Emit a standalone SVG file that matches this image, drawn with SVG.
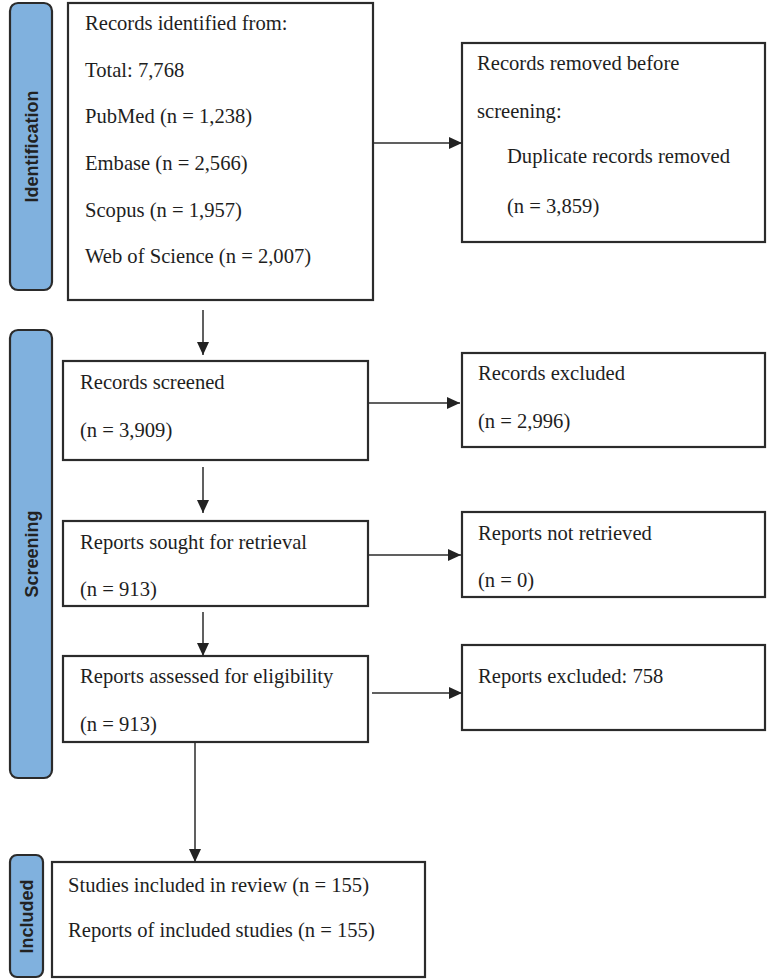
<svg xmlns="http://www.w3.org/2000/svg" width="767" height="979" viewBox="0 0 767 979">
<defs>
<style>
.box{fill:#fff;stroke:#2b2b2b;stroke-width:2.2}
.bar{fill:#80b1de;stroke:#2b2b2b;stroke-width:2.2}
.t{font-family:"Liberation Serif","Times New Roman",serif;font-size:20.6px;fill:#1e1e1e}
.lab{font-family:"Liberation Sans",Arial,sans-serif;font-size:18px;font-weight:bold;fill:#222;text-anchor:middle}
.con{stroke:#2b2b2b;stroke-width:1.5;fill:none;marker-end:url(#ah)}
</style>
<marker id="ah" markerUnits="userSpaceOnUse" markerWidth="14" markerHeight="12" refX="13" refY="6" orient="auto">
<path d="M0,0 L13,6 L0,12 Z" fill="#222"/>
</marker>
</defs>
<rect width="767" height="979" fill="#fff"/>

<g id="phase-identification">
<rect class="bar" x="10" y="3" width="42" height="287" rx="8"/>
<text class="lab" transform="translate(37.5,146.5) rotate(-90)">Identification</text>
</g>
<g id="phase-screening">
<rect class="bar" x="10" y="330" width="42" height="448" rx="8"/>
<text class="lab" transform="translate(37.5,554) rotate(-90)">Screening</text>
</g>
<g id="phase-included">
<rect class="bar" x="10" y="855" width="33" height="122" rx="7"/>
<text class="lab" transform="translate(33,916.5) rotate(-90)">Included</text>
</g>

<g id="node-identified">
<rect class="box" x="68" y="3" width="305" height="297"/>
<text class="t" x="85" y="30">Records identified from:</text>
<text class="t" x="85" y="77">Total: 7,768</text>
<text class="t" x="85" y="123">PubMed (n = 1,238)</text>
<text class="t" x="85" y="170">Embase (n = 2,566)</text>
<text class="t" x="85" y="217">Scopus (n = 1,957)</text>
<text class="t" x="85" y="263">Web of Science (n = 2,007)</text>
</g>
<g id="node-removed">
<rect class="box" x="462" y="43" width="303" height="199"/>
<text class="t" x="477" y="70">Records removed before</text>
<text class="t" x="477" y="118">screening:</text>
<text class="t" x="507" y="163">Duplicate records removed</text>
<text class="t" x="507" y="213">(n = 3,859)</text>
</g>
<g id="node-screened">
<rect class="box" x="63" y="361" width="305" height="99"/>
<text class="t" x="80" y="389">Records screened</text>
<text class="t" x="80" y="437">(n = 3,909)</text>
</g>
<g id="node-excluded">
<rect class="box" x="462" y="353" width="303" height="94"/>
<text class="t" x="478" y="380">Records excluded</text>
<text class="t" x="478" y="428">(n = 2,996)</text>
</g>
<g id="node-sought">
<rect class="box" x="63" y="521" width="305" height="85"/>
<text class="t" x="80" y="549">Reports sought for retrieval</text>
<text class="t" x="80" y="596">(n = 913)</text>
</g>
<g id="node-not-retrieved">
<rect class="box" x="462" y="512" width="303" height="85"/>
<text class="t" x="478" y="540">Reports not retrieved</text>
<text class="t" x="478" y="587">(n = 0)</text>
</g>
<g id="node-assessed">
<rect class="box" x="63" y="656" width="305" height="86"/>
<text class="t" x="80" y="683">Reports assessed for eligibility</text>
<text class="t" x="80" y="731">(n = 913)</text>
</g>
<g id="node-reports-excluded">
<rect class="box" x="462" y="645" width="303" height="85"/>
<text class="t" x="478" y="683">Reports excluded: 758</text>
</g>
<g id="node-included">
<rect class="box" x="52" y="862" width="373" height="115"/>
<text class="t" x="68" y="892">Studies included in review (n = 155)</text>
<text class="t" x="68" y="937">Reports of included studies (n = 155)</text>
</g>

<g id="connectors">
<line class="con" x1="373" y1="143" x2="462" y2="143"/>
<line class="con" x1="203" y1="310" x2="203" y2="355"/>
<line class="con" x1="368" y1="403" x2="460" y2="403"/>
<line class="con" x1="203" y1="467" x2="203" y2="513"/>
<line class="con" x1="368" y1="555" x2="461" y2="555"/>
<line class="con" x1="203" y1="612" x2="203" y2="656"/>
<line class="con" x1="372" y1="693" x2="462" y2="693"/>
<line class="con" x1="195" y1="742" x2="195" y2="862"/>
</g>
</svg>
